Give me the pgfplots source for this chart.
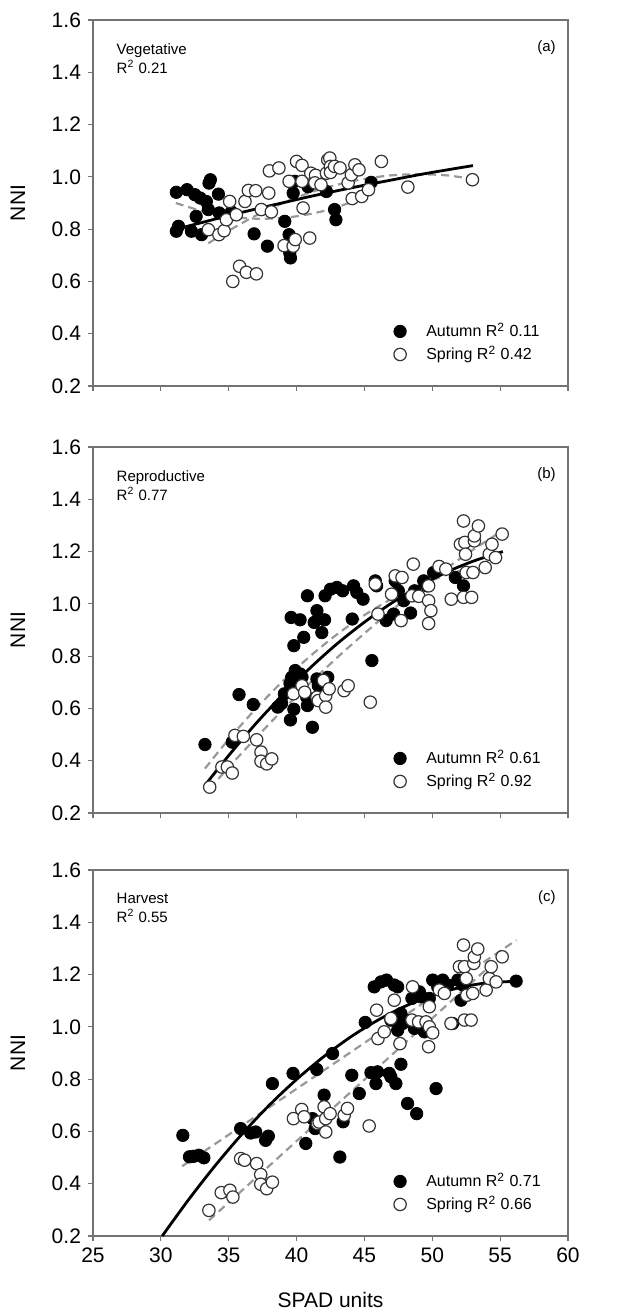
\documentclass[border=0pt]{standalone}
\usepackage{fontspec}
\setmainfont{Liberation Sans}
\usepackage{pgfplots}
\pgfplotsset{compat=1.18}

\definecolor{fitgray}{gray}{0.6}
\definecolor{axgray}{gray}{0.45}

\tikzset{
  tag/.style={anchor=east, inner sep=0pt, font=\fontsize{7.5}{9}\selectfont},
  stage/.style={anchor=north west, align=left, font=\fontsize{7.5}{9.5}\selectfont},
}

\pgfplotsset{
  panel/.style={
    scale only axis, width=237.5pt, height=183pt,
    xmin=25, xmax=60, ymin=0.2, ymax=1.6,
    xtick={25,30,...,60}, ytick={0.2,0.4,...,1.6},
    tick align=outside, xtick pos=left, ytick pos=left,
    major tick length=2.5pt,
    axis line style={axgray, line width=0.6pt},
    tick style={axgray, line width=0.6pt},
    /pgf/number format/assume math mode=true,
    ticklabel style={font=\fontsize{10.5}{12}\selectfont},
    yticklabel style={/pgf/number format/.cd, fixed, fixed zerofill, precision=1},
    ylabel={NNI},
    ylabel style={at={(axis description cs:-0.158,0.5)}, anchor=center, font=\fontsize{10.5}{12}\selectfont},
    legend style={draw=none, fill=none, at={(rel axis cs:0.62,0.04)}, anchor=south west,
      font=\fontsize{8}{9.5}\selectfont, row sep=-1pt,
      /tikz/every odd column/.append style={column sep=8pt}},
    legend cell align=left,
  },
  autumn/.style={only marks, mark=*, mark size=3.1pt, mark options={fill=black, draw=black}},
  spring/.style={only marks, mark=*, mark size=3.1pt, mark options={fill=white, draw=black!80, line width=0.6pt}},
  fitmain/.style={black, line width=1.4pt, smooth, no marks, forget plot},
  fitsub/.style={fitgray, line width=1.1pt, dash pattern=on 4pt off 2.5pt, smooth, no marks, forget plot},
}

\begin{document}
\begin{tikzpicture}

% (a) vegetative
\begin{axis}[panel, at={(0,0)}, xticklabels={}]
\addplot+[autumn] coordinates {
(31.14,0.941) (31.93,0.951) (32.5,0.932) (32.9,0.919) (33.35,0.906) (33.55,0.976)
(33.65,0.989) (34.24,0.934) (31.14,0.792) (31.3,0.811) (32.25,0.792) (32.6,0.849)
(33.0,0.779) (33.5,0.875) (34.3,0.862) (35.2,0.866) (36.87,0.782) (37.85,0.735)
(39.13,0.83) (39.45,0.779) (39.5,0.709) (39.55,0.69) (39.87,0.983) (39.75,0.938)
(40.85,0.962) (42.2,0.944) (42.8,0.875) (42.9,0.836) (45.5,0.979)
};
\addlegendentry{Autumn R\textsuperscript{2} 0.11}
\addplot+[spring] coordinates {
(33.5,0.798) (34.28,0.779) (34.66,0.794) (35.07,0.906) (34.83,0.836) (35.3,0.60)
(35.8,0.658) (36.3,0.635) (37.04,0.629) (35.56,0.855) (36.2,0.906) (36.45,0.948)
(36.99,0.947) (37.4,0.875) (37.95,0.938) (38.14,0.866) (38.0,1.023) (38.7,1.034)
(39.08,0.737) (39.45,0.983) (39.75,0.735) (39.9,0.76) (40.0,1.059) (40.4,1.044)
(40.4,0.983) (40.48,0.881) (40.97,0.766) (41.05,1.014) (41.4,1.006) (41.35,0.977)
(41.8,0.97) (42.2,1.014) (42.3,1.065) (42.45,1.072) (42.5,1.04) (42.5,1.017)
(42.8,1.04) (43.2,1.034) (43.8,0.977) (44.04,1.008) (44.1,0.917) (44.3,1.046)
(44.6,1.027) (44.8,0.925) (45.3,0.951) (46.25,1.059) (48.2,0.961) (52.96,0.989)
};
\addlegendentry{Spring R\textsuperscript{2} 0.42}
\addplot[fitsub] coordinates {
(31.1,0.900) (33,0.870) (35,0.849) (37,0.840) (39,0.843) (41,0.858) (43,0.884) (45.5,0.934)
};
\addplot[fitsub] coordinates {
(33.5,0.746) (35,0.794) (37,0.852) (39,0.900) (41,0.940) (43,0.970) (45,0.992)
(47,1.006) (49,1.010) (51,1.006) (53,0.992)
};
\addplot[fitmain] coordinates {
(31.14,0.800) (33,0.825) (35,0.852) (37,0.877) (39,0.901) (41,0.925) (43,0.947)
(45,0.968) (47,0.988) (49,1.008) (51,1.026) (53,1.043)
};
\node[stage] at (rel axis cs:0.035,0.955) {Vegetative\\R\textsuperscript{2} 0.21};
\node[tag] at (rel axis cs:0.975,0.925) {(a)};
\end{axis}

% (b) reproductive
\begin{axis}[panel, at={(0,-213.5pt)}, xticklabels={}]
\addplot+[autumn] coordinates {
(33.25,0.462) (35.26,0.471) (35.76,0.653) (36.81,0.615) (38.61,0.605) (38.9,0.62)
(39.1,0.656) (39.55,0.556) (39.52,0.695) (39.64,0.719) (39.9,0.745) (39.6,0.948)
(40.26,0.939) (39.8,0.84) (39.8,0.597) (40.26,0.732) (40.4,0.72) (40.53,0.872)
(40.8,1.031) (40.75,0.643) (40.8,0.611) (41.17,0.528) (41.3,0.929) (41.5,0.974)
(41.86,0.89) (42.06,0.939) (41.5,0.713) (41.6,0.687) (42.3,0.719) (42.1,1.031)
(42.5,1.056) (42.97,1.063) (43.4,1.05) (44.1,0.942) (44.2,1.069) (44.44,1.044)
(44.9,1.018) (45.55,0.783) (45.8,1.088) (45.9,1.069) (46.6,0.936) (47.15,0.961)
(47.27,1.088) (47.5,1.05) (47.9,1.012) (48.4,0.965) (48.7,1.05) (49.37,1.088)
(49.6,1.069) (50.1,1.12) (51.7,1.101) (52.3,1.069)
};
\addlegendentry{Autumn R\textsuperscript{2} 0.61}
\addplot+[spring] coordinates {
(33.6,0.299) (34.5,0.376) (34.9,0.376) (35.26,0.353) (35.46,0.497) (36.08,0.493)
(37.06,0.48) (37.38,0.433) (37.38,0.398) (37.8,0.388) (38.17,0.407) (39.77,0.656)
(40.4,0.687) (40.6,0.662) (41.5,0.643) (41.6,0.63) (41.98,0.707) (42.15,0.649)
(42.15,0.605) (42.4,0.675) (43.5,0.668) (43.8,0.687) (45.43,0.624) (45.8,1.076)
(46.0,0.961) (47.0,1.037) (47.27,1.107) (47.77,1.101) (47.7,0.936) (48.6,1.152)
(48.5,1.031) (49.0,1.029) (49.73,1.069) (49.73,1.012) (49.9,0.974) (49.73,0.925)
(50.5,1.143) (51.0,1.133) (51.4,1.018) (52.07,1.228) (52.3,1.317) (52.4,1.235)
(52.45,1.19) (52.5,1.12) (52.3,1.025) (52.9,1.025) (53.0,1.12) (53.1,1.241)
(53.1,1.26) (53.4,1.298) (53.9,1.139) (54.2,1.19) (54.4,1.228) (54.66,1.177)
(55.15,1.267)
};
\addlegendentry{Spring R\textsuperscript{2} 0.92}
\addplot[fitsub] coordinates {
(33.25,0.370) (35,0.482) (37,0.599) (39,0.705) (41,0.800) (43,0.884) (45,0.957)
(47,1.019) (49,1.070) (51,1.110) (52.3,1.130)
};
\addplot[fitsub] coordinates {
(33.6,0.293) (35,0.375) (37,0.487) (39,0.595) (41,0.697) (43,0.795) (45,0.887)
(47,0.975) (49,1.057) (51,1.134) (53,1.207) (55.15,1.279)
};
\addplot[fitmain] coordinates {
(33.25,0.306) (35,0.420) (37,0.542) (39,0.653) (41,0.755) (43,0.848) (45,0.930)
(47,1.003) (49,1.066) (51,1.120) (53,1.163) (55.2,1.200)
};
\node[stage] at (rel axis cs:0.035,0.955) {Reproductive\\R\textsuperscript{2} 0.77};
\node[tag] at (rel axis cs:0.975,0.925) {(b)};
\end{axis}

% (c) harvest
\begin{axis}[panel, at={(0,-425pt)},
  xlabel={SPAD units},
  xlabel style={at={(axis description cs:0.5,-0.175)}, anchor=center, font=\fontsize{10.5}{12}\selectfont}]
\addplot+[autumn] coordinates {
(31.62,0.585) (32.11,0.503) (32.43,0.505) (32.8,0.509) (33.17,0.499) (35.88,0.611)
(36.62,0.594) (36.99,0.598) (37.72,0.566) (37.92,0.582) (38.22,0.783) (39.74,0.822)
(40.68,0.554) (41.17,0.649) (41.37,0.611) (41.49,0.837) (42.03,0.739) (42.65,0.898)
(43.19,0.502) (43.43,0.637) (44.07,0.815) (44.62,0.745) (45.06,1.017) (45.48,0.825)
(45.72,1.153) (45.85,0.783) (45.97,0.828) (46.22,1.172) (46.63,1.179) (46.83,0.822)
(46.95,0.809) (46.95,1.026) (47.2,1.16) (47.32,0.783) (47.45,1.153) (47.45,0.987)
(47.69,0.857) (47.69,1.051) (47.82,1.013) (48.06,1.026) (48.18,0.707) (48.5,1.109)
(48.68,0.994) (48.85,0.668) (49.05,1.134) (49.17,1.115) (49.42,0.981) (49.54,0.994)
(49.78,1.109) (50.03,1.179) (50.28,0.764) (50.4,1.153) (50.77,1.179) (51.14,1.16)
(51.5,1.013) (51.88,1.179) (52.12,1.102) (52.25,1.16) (56.18,1.175)
};
\addlegendentry{Autumn R\textsuperscript{2} 0.71}
\addplot+[spring] coordinates {
(33.54,0.298) (34.45,0.366) (35.09,0.375) (35.31,0.349) (35.88,0.496) (36.17,0.49)
(37.06,0.477) (37.36,0.435) (37.36,0.398) (37.8,0.381) (38.22,0.406) (39.77,0.649)
(40.38,0.684) (40.56,0.656) (41.54,0.63) (41.66,0.636) (42.03,0.694) (42.15,0.649)
(42.15,0.598) (42.47,0.668) (43.51,0.662) (43.75,0.688) (45.35,0.621) (45.9,1.064)
(46.0,0.955) (46.46,0.981) (46.95,1.032) (47.2,1.102) (47.62,0.936) (48.55,1.153)
(48.5,1.026) (48.99,1.019) (49.54,1.019) (49.78,1.077) (49.78,1.0) (50.03,0.977)
(49.73,0.924) (50.52,1.141) (50.89,1.128) (51.38,1.013) (52.0,1.23) (52.3,1.313)
(52.37,1.23) (52.5,1.185) (52.54,1.121) (52.37,1.026) (52.86,1.026) (52.98,1.128)
(53.06,1.243) (53.1,1.268) (53.35,1.298) (53.97,1.141) (54.2,1.185) (54.34,1.23)
(54.7,1.172) (55.15,1.268)
};
\addlegendentry{Spring R\textsuperscript{2} 0.66}
\addplot[fitsub] coordinates {(31.57,0.467) (56.2,1.332)};
\addplot[fitsub] coordinates {(33.55,0.26) (55.0,1.268)};
\addplot[fitmain] coordinates {
(30.1,0.200) (32,0.336) (34,0.469) (36,0.591) (38,0.701) (40,0.799) (42,0.886)
(44,0.962) (46,1.026) (48,1.079) (50,1.120) (52,1.150) (54,1.168) (56.5,1.175)
};
\node[stage] at (rel axis cs:0.035,0.955) {Harvest\\R\textsuperscript{2} 0.55};
\node[tag] at (rel axis cs:0.975,0.925) {(c)};
\end{axis}

\pgfresetboundingbox
\useasboundingbox (-46.5pt,-464pt) rectangle (262.5pt,193pt);
\end{tikzpicture}
\end{document}
